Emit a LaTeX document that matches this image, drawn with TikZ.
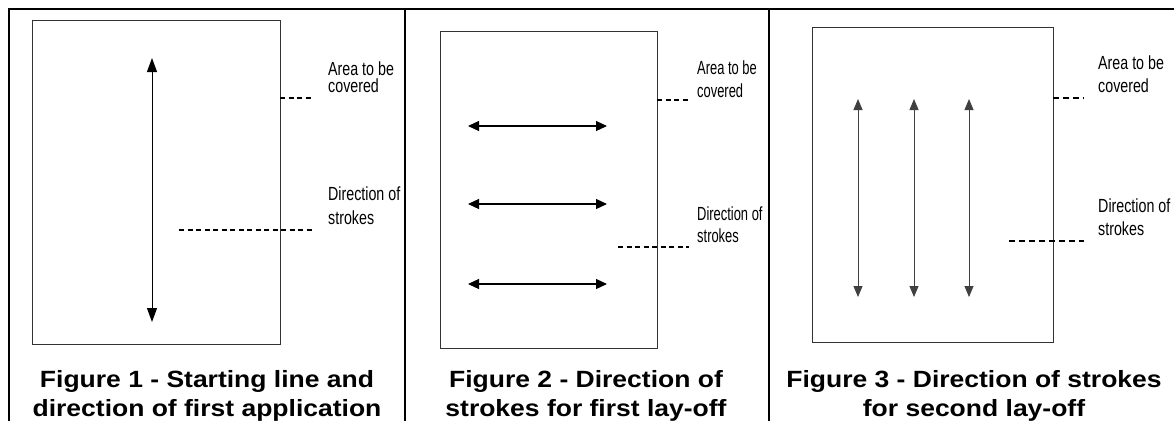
\documentclass[tikz,border=0pt]{standalone}
\usepackage{fontspec}
\usetikzlibrary{arrows.meta}
\newfontfamily\lblfont[FakeStretch=0.75]{Liberation Sans}
\newfontfamily\lblfontn[FakeStretch=0.68]{Liberation Sans}
\newfontfamily\capfont[FakeStretch=1.127]{Liberation Sans}
\tikzset{
  frame/.style={line width=1.5pt, black},
  area/.style={line width=1.3pt, draw=black!80},
  dsh/.style={line width=1.6pt, dash pattern=on 5pt off 3.5pt},
  dshw/.style={line width=1.6pt, dash pattern=on 6pt off 4pt},
  varrow/.style={line width=1pt, {Triangle[width=10pt,length=14pt]}-{Triangle[width=10pt,length=14pt]}},
  harrow/.style={line width=1.2pt, {Triangle[width=10pt,length=11pt]}-{Triangle[width=10pt,length=11pt]}},
  varrowb/.style={line width=0.9pt, draw=black!75, {Triangle[width=9pt,length=11pt]}-{Triangle[width=9pt,length=11pt]}},
  lbl/.style={font=\lblfont\fontsize{19}{22}\selectfont, anchor=base west, inner sep=0pt},
  lbln/.style={font=\lblfontn\fontsize{19}{22}\selectfont, anchor=base west, inner sep=0pt},
  capt/.style={font=\capfont\bfseries\fontsize{23.5}{28}\selectfont, anchor=base, inner sep=0pt}
}
\begin{document}
\begin{tikzpicture}[x=1pt,y=-1pt]
\useasboundingbox[fill=white] (0,0) rectangle (1174,421);
% table frame
\coordinate (tl) at (9,9);
\coordinate (tr) at (1174,9);
\coordinate (bl) at (9,421);
\coordinate (s1t) at (405,9);
\coordinate (s1b) at (405,421);
\coordinate (s2t) at (769,9);
\coordinate (s2b) at (769,421);
\draw[frame] (tr) -- (tl) -- (bl);
\draw[frame] (s1t) -- (s1b);
\draw[frame] (s2t) -- (s2b);

% ---------- Panel 1 ----------
\node[area, draw, minimum width=248pt, minimum height=324pt, inner sep=0pt, anchor=north west] (box1) at (32,20) {};
\coordinate (a1t) at (152,58);
\coordinate (a1b) at (152,322);
\draw[varrow] (a1t) -- (a1b);
\node[lbl] (l1a) at (328,75) {Area to be};
\node[lbl] (l1b) at (328,92) {covered};
\node[lbl] (l1c) at (328,200) {Direction of};
\node[lbl] (l1d) at (328,224) {strokes};
\coordinate (d1a0) at (280,98);
\coordinate (d1a1) at (313,98);
\coordinate (d1b0) at (179,230);
\coordinate (d1b1) at (313,230);
\draw[dsh] (d1a0) -- (d1a1);
\draw[dsh] (d1b0) -- (d1b1);
\node[capt] (c1a) at (207,387) {Figure 1 - Starting line and};
\node[capt] (c1b) at (207,416) {direction of first application};

% ---------- Panel 2 ----------
\node[area, draw, minimum width=217pt, minimum height=317pt, inner sep=0pt, anchor=north west] (box2) at (440,31) {};
\coordinate (h1l) at (468,126);
\coordinate (h1r) at (607,126);
\coordinate (h2l) at (468,204);
\coordinate (h2r) at (607,204);
\coordinate (h3l) at (468,284);
\coordinate (h3r) at (607,284);
\draw[harrow] (h1l) -- (h1r);
\draw[harrow] (h2l) -- (h2r);
\draw[harrow] (h3l) -- (h3r);
\node[lbln] (l2a) at (697,74) {Area to be};
\node[lbln] (l2b) at (697,97) {covered};
\node[lbln] (l2c) at (697,220) {Direction of};
\node[lbln] (l2d) at (697,242) {strokes};
\coordinate (d2a0) at (657,100);
\coordinate (d2a1) at (689,100);
\coordinate (d2b0) at (618,247);
\coordinate (d2b1) at (689,247);
\draw[dsh] (d2a0) -- (d2a1);
\draw[dsh] (d2b0) -- (d2b1);
\node[capt] (c2a) at (586,387) {Figure 2 - Direction of};
\node[capt] (c2b) at (586,416) {strokes for first lay-off};

% ---------- Panel 3 ----------
\node[area, draw, minimum width=241pt, minimum height=315pt, inner sep=0pt, anchor=north west] (box3) at (812,27) {};
\coordinate (v1t) at (858,99);
\coordinate (v1b) at (858,297);
\coordinate (v2t) at (914,99);
\coordinate (v2b) at (914,297);
\coordinate (v3t) at (969,99);
\coordinate (v3b) at (969,297);
\draw[varrowb] (v1t) -- (v1b);
\draw[varrowb] (v2t) -- (v2b);
\draw[varrowb] (v3t) -- (v3b);
\node[lbl] (l3a) at (1098,69) {Area to be};
\node[lbl] (l3b) at (1098,92) {covered};
\node[lbl] (l3c) at (1098,212) {Direction of};
\node[lbl] (l3d) at (1098,235) {strokes};
\coordinate (d3a0) at (1053,98);
\coordinate (d3a1) at (1084,98);
\coordinate (d3b0) at (1009,241);
\coordinate (d3b1) at (1084,241);
\draw[dshw] (d3a0) -- (d3a1);
\draw[dshw] (d3b0) -- (d3b1);
\node[capt] (c3a) at (974,387) {Figure 3 - Direction of strokes};
\node[capt] (c3b) at (974,416) {for second lay-off};
\end{tikzpicture}
\end{document}
